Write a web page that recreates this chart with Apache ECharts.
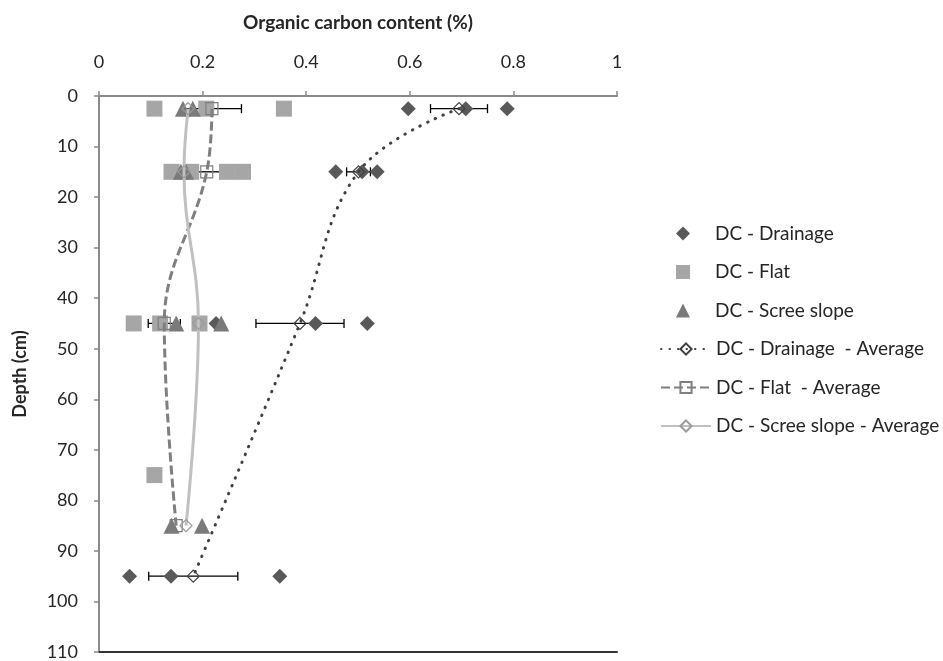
<!DOCTYPE html>
<html><head><meta charset="utf-8">
<script src="https://cdn.jsdelivr.net/npm/echarts@6/dist/echarts.min.js"></script>
<style>html,body{margin:0;padding:0;background:#fff}#c{width:943px;height:661px}</style>
</head><body><div id="c"></div>
<script>
// ---- data (x = organic carbon %, y = depth cm) ----
const seriesNames = ['DC - Drainage', 'DC - Flat', 'DC - Scree slope', 'DC - Drainage  - Average', 'DC - Flat  - Average', 'DC - Scree slope - Average'];
const drainage = [[0.597,2.5],[0.708,2.5],[0.788,2.5],[0.457,15],[0.508,15],[0.537,15],[0.226,45],[0.418,45],[0.518,45],[0.059,95],[0.139,95],[0.349,95]];
const flat = [[0.107,2.5],[0.207,2.5],[0.357,2.5],[0.140,15],[0.178,15],[0.247,15],[0.278,15],[0.067,45],[0.118,45],[0.194,45],[0.107,75]];
const scree = [[0.162,2.5],[0.181,2.5],[0.158,15],[0.168,15],[0.149,45],[0.236,45],[0.140,85],[0.199,85]];
const drainageAvg = [[0.695,2.5],[0.501,15],[0.388,45],[0.182,95]];
const drainageErr = [0.055,0.023,0.085,0.086];
const flatAvg = [[0.218,2.5],[0.208,15],[0.126,45],[0.149,85]];
const flatErr = [0.057,0.027,0.031,0];
const screeAvg = [[0.172,2.5],[0.164,15],[0.192,45],[0.168,85]];
const xRange = [0, 1, 0.2];
const yRange = [0, 110, 10];

const FONT = 'Lato';
const TXT = '#262626';
const AXC = '#8a8a8a';

function errRender(params, api) {
  const x = api.value(0), y = api.value(1), e = api.value(2);
  if (!e) return null;
  const l = api.coord([x - e, y]), r = api.coord([x + e, y]);
  const st = { stroke: '#000', lineWidth: 1.3 };
  return { type: 'group', children: [
    { type: 'line', shape: { x1: l[0], y1: l[1], x2: r[0], y2: r[1] }, style: st },
    { type: 'line', shape: { x1: l[0], y1: l[1] - 4.5, x2: l[0], y2: l[1] + 4.5 }, style: st },
    { type: 'line', shape: { x1: r[0], y1: r[1] - 4.5, x2: r[0], y2: r[1] + 4.5 }, style: st }
  ]};
}
const withErr = (avg, err) => avg.map((p, i) => [p[0], p[1], err[i]]);

const legendTop0 = 224, legendStep = 38.5;
const legends = seriesNames.map((n, i) => {
  const isLine = i >= 3;
  return {
    data: [n], orient: 'vertical', left: isLine ? 660 : 676, top: legendTop0 + i * legendStep, padding: 0,
    itemWidth: isLine ? 50 : 14, itemHeight: 14, selectedMode: false, symbolKeepAspect: true,
    textStyle: { fontSize: 19, fontFamily: FONT, color: TXT, padding: [0, 0, 0, isLine ? 0 : 20] }
  };
});

const chart = echarts.init(document.getElementById('c'), null, { renderer: 'canvas' });
chart.setOption({
  animation: false,
  backgroundColor: '#fff',
  grid: { left: 99, right: 326, top: 96, bottom: 9, containLabel: false },
  legend: legends,
  xAxis: [{
    type: 'value', position: 'top', min: xRange[0], max: xRange[1], interval: xRange[2],
    name: 'Organic carbon content (%)', nameLocation: 'middle', nameGap: 64,
    nameTextStyle: { fontWeight: 'bold', fontSize: 19, color: TXT, fontFamily: FONT },
    axisLine: { show: true, onZero: false, lineStyle: { color: AXC, width: 2 } },
    axisTick: { show: true, length: 5, lineStyle: { color: AXC, width: 1.5 } },
    axisLabel: { fontSize: 18, color: TXT, fontFamily: FONT, margin: 25 },
    splitLine: { show: false }
  }, {
    type: 'value', position: 'bottom', min: xRange[0], max: xRange[1],
    axisLine: { show: true, onZero: false, lineStyle: { color: '#333', width: 2 } },
    axisTick: { show: false }, axisLabel: { show: false }, splitLine: { show: false }
  }],
  yAxis: {
    type: 'value', inverse: true, min: yRange[0], max: yRange[1], interval: yRange[2],
    name: 'Depth (cm)', nameLocation: 'middle', nameGap: 70, nameRotate: 90,
    nameTextStyle: { fontWeight: 'bold', fontSize: 18, color: TXT, fontFamily: FONT },
    axisLine: { show: true, onZero: false, lineStyle: { color: AXC, width: 2 } },
    axisTick: { show: true, length: 5, lineStyle: { color: AXC, width: 1.5 } },
    axisLabel: { fontSize: 18, color: TXT, fontFamily: FONT, margin: 21 },
    splitLine: { show: false }
  },
  series: [
    { type: 'custom', name: 'errD', renderItem: errRender, data: withErr(drainageAvg, drainageErr), encode: { x: 0, y: 1 }, z: 1, silent: true },
    { type: 'custom', name: 'errF', renderItem: errRender, data: withErr(flatAvg, flatErr), encode: { x: 0, y: 1 }, z: 1, silent: true },
    { type: 'scatter', name: seriesNames[0], data: drainage, symbol: 'diamond', symbolSize: 15, itemStyle: { color: '#595959', opacity: 1 }, z: 2 },
    { type: 'scatter', name: seriesNames[1], data: flat, symbol: 'rect', symbolSize: 16, itemStyle: { color: '#a6a6a6', opacity: 1 }, z: 2 },
    { type: 'scatter', name: seriesNames[2], data: scree, symbol: 'triangle', symbolSize: 16, itemStyle: { color: '#7a7a7a', opacity: 1 }, z: 2 },
    { type: 'line', name: seriesNames[3], data: drainageAvg, smooth: 0.4, symbol: 'diamond', symbolSize: 12, showAllSymbol: true,
      lineStyle: { color: '#404040', width: 3, type: [0.5, 8], cap: 'round' },
      itemStyle: { color: 'rgba(255,255,255,0)', borderColor: '#404040', borderWidth: 1.2 }, z: 3 },
    { type: 'line', name: seriesNames[4], data: flatAvg, smooth: 0.4, symbol: 'rect', symbolSize: 12, showAllSymbol: true,
      lineStyle: { color: '#7f7f7f', width: 3, type: [9, 4] },
      itemStyle: { color: 'rgba(255,255,255,0)', borderColor: '#7f7f7f', borderWidth: 1.2 }, z: 3 },
    { type: 'line', name: seriesNames[5], data: screeAvg, smooth: 0.4, symbol: 'diamond', symbolSize: 12, showAllSymbol: true,
      lineStyle: { color: '#c0c0c0', width: 3 },
      itemStyle: { color: 'rgba(255,255,255,0)', borderColor: '#9a9a9a', borderWidth: 1.2 }, z: 3 }
  ]
});
</script></body></html>
